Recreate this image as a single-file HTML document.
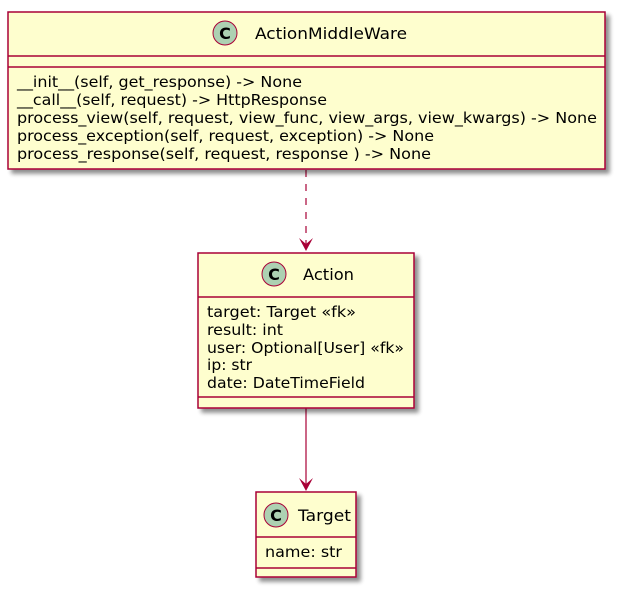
<!DOCTYPE html>
<html><head><meta charset="utf-8"><style>
html,body{margin:0;padding:0;background:#fff;}
svg{display:block;}
text{font-family:"DejaVu Sans","Liberation Sans",sans-serif;fill:#000;}
</style></head><body>
<svg width="618" height="591" viewBox="0 0 618 591" xmlns="http://www.w3.org/2000/svg">
<defs>
<filter id="sh" x="-10%" y="-10%" width="130%" height="130%">
<feGaussianBlur in="SourceAlpha" stdDeviation="2"/>
<feOffset dx="4" dy="4"/>
<feComponentTransfer><feFuncA type="linear" slope="0.45"/></feComponentTransfer>
<feMerge><feMergeNode/><feMergeNode in="SourceGraphic"/></feMerge>
</filter>
</defs>
<line x1="306" y1="170" x2="306" y2="248" stroke="#A80036" stroke-width="1.2" stroke-dasharray="7,7"/>
<polygon points="299,238 306,251 313,238 306,244" fill="#A80036"/>
<line x1="306" y1="408" x2="306" y2="488" stroke="#A80036" stroke-width="1.2"/>
<polygon points="299,478 306,491 313,478 306,484" fill="#A80036"/>

<rect x="8" y="12" width="597" height="157" fill="#FEFECE" stroke="#A80036" stroke-width="1.5" filter="url(#sh)"/>
<line x1="8" y1="56" x2="605" y2="56" stroke="#A80036" stroke-width="1.5"/>
<line x1="8" y1="67" x2="605" y2="67" stroke="#A80036" stroke-width="1.5"/>
<circle cx="225" cy="33" r="12" fill="#ADD1B2" stroke="#A80036" stroke-width="1"/>
<text x="225" y="39" font-size="16" font-weight="bold" text-anchor="middle">C</text>
<text x="255" y="39" font-size="16" textLength="152" lengthAdjust="spacingAndGlyphs">ActionMiddleWare</text>
<text x="17" y="87" font-size="15" textLength="285" lengthAdjust="spacingAndGlyphs">__init__(self, get_response) -&gt; None</text>
<text x="17" y="105" font-size="15" textLength="310" lengthAdjust="spacingAndGlyphs">__call__(self, request) -&gt; HttpResponse</text>
<text x="17" y="123" font-size="15" textLength="580" lengthAdjust="spacingAndGlyphs">process_view(self, request, view_func, view_args, view_kwargs) -&gt; None</text>
<text x="17" y="141" font-size="15" textLength="417" lengthAdjust="spacingAndGlyphs">process_exception(self, request, exception) -&gt; None</text>
<text x="17" y="159" font-size="15" textLength="414" lengthAdjust="spacingAndGlyphs">process_response(self, request, response ) -&gt; None</text>

<rect x="198" y="253" width="216" height="155" fill="#FEFECE" stroke="#A80036" stroke-width="1.5" filter="url(#sh)"/>
<line x1="198" y1="297" x2="414" y2="297" stroke="#A80036" stroke-width="1.5"/>
<line x1="198" y1="397" x2="414" y2="397" stroke="#A80036" stroke-width="1.5"/>
<circle cx="274" cy="274" r="12" fill="#ADD1B2" stroke="#A80036" stroke-width="1"/>
<text x="274" y="280" font-size="16" font-weight="bold" text-anchor="middle">C</text>
<text x="303" y="280" font-size="16" textLength="51" lengthAdjust="spacingAndGlyphs">Action</text>
<text x="207" y="317" font-size="15" textLength="149" lengthAdjust="spacingAndGlyphs">target: Target «fk»</text>
<text x="207" y="335" font-size="15" textLength="76" lengthAdjust="spacingAndGlyphs">result: int</text>
<text x="207" y="353" font-size="15" textLength="197" lengthAdjust="spacingAndGlyphs">user: Optional[User] «fk»</text>
<text x="207" y="370" font-size="15" textLength="45" lengthAdjust="spacingAndGlyphs">ip: str</text>
<text x="207" y="388" font-size="15" textLength="158" lengthAdjust="spacingAndGlyphs">date: DateTimeField</text>

<rect x="256" y="492" width="100" height="85" fill="#FEFECE" stroke="#A80036" stroke-width="1.5" filter="url(#sh)"/>
<line x1="256" y1="537" x2="356" y2="537" stroke="#A80036" stroke-width="1.5"/>
<line x1="256" y1="568" x2="356" y2="568" stroke="#A80036" stroke-width="1.5"/>
<circle cx="276" cy="515" r="12" fill="#ADD1B2" stroke="#A80036" stroke-width="1"/>
<text x="276" y="521" font-size="16" font-weight="bold" text-anchor="middle">C</text>
<text x="298" y="521" font-size="16" textLength="53" lengthAdjust="spacingAndGlyphs">Target</text>
<text x="265" y="557" font-size="15" textLength="77" lengthAdjust="spacingAndGlyphs">name: str</text>
</svg>
</body></html>
